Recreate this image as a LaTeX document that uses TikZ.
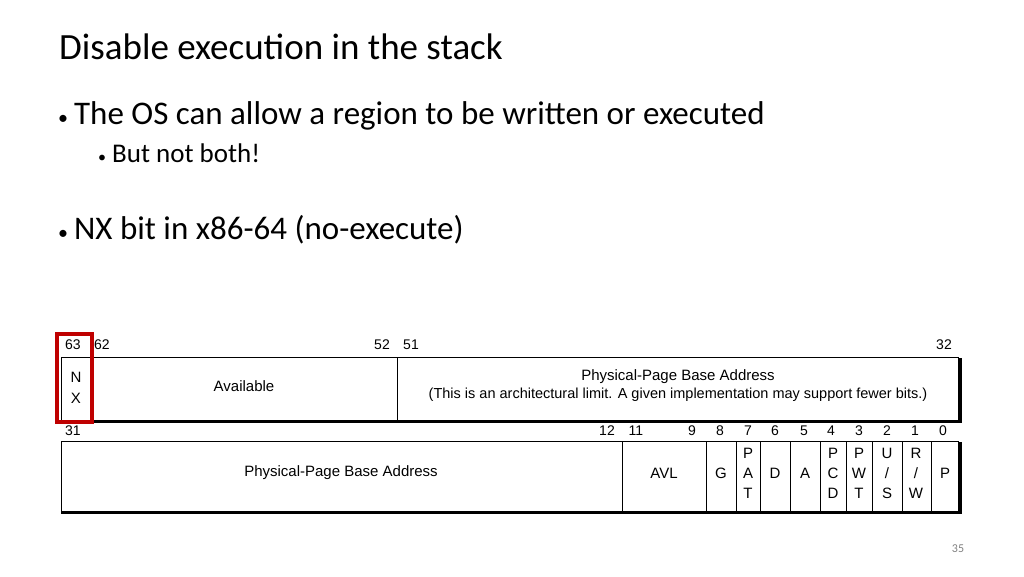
\documentclass[tikz,border=0pt]{standalone}
\usepackage{fontspec}
\setmainfont{Carlito}
\newfontfamily\figfont{Liberation Sans}
\begin{document}
\begin{tikzpicture}[x=1pt,y=-1pt,
    cell/.style={draw,line width=0.8pt},
    num/.style={font=\figfont\fontsize{14}{14}\selectfont,inner sep=0pt},
    lbl/.style={font=\figfont\fontsize{15}{17}\selectfont,inner sep=0pt,align=center},
    shade/.style={line width=3pt}]
  \useasboundingbox (0,0) rectangle (1024,576);
  % slide text
  \node[anchor=west,inner sep=0pt] (title) at (59,47) {\fontsize{37}{37}\selectfont Disable execution in the stack};
  \node[anchor=west,inner sep=0pt] (b1) at (58,116) {\fontsize{33}{33}\selectfont{\fontsize{20}{20}\selectfont\textbullet}\hspace{6pt}The OS can allow a region to be written or executed};
  \node[anchor=west,inner sep=0pt] (b2) at (98,153) {\fontsize{27}{27}\selectfont{\fontsize{16}{16}\selectfont\textbullet}\hspace{6pt}But not both!};
  \node[anchor=west,inner sep=0pt] (b3) at (58,230) {\fontsize{33}{33}\selectfont{\fontsize{20}{20}\selectfont\textbullet}\hspace{6pt}NX bit in x86-64 (no-execute)};
  \node[inner sep=0pt] (pg) at (958,549) {\fontsize{12}{12}\selectfont\color{gray}35};
  % upper row
  \draw[cell] (61,357) rectangle (958,420);
  \draw[cell] (92,357) -- (92,420);
  \draw[cell] (397,357) -- (397,420);
  \draw[shade] (61,421) -- (960,421) -- (960,358);
  \node[lbl] (nx) at (76,388) {N\\[4pt]X};
  \node[lbl] (avl1) at (244,386) {Available};
  \node[lbl] (ppba1) at (678,386) {Physical-Page Base Address\\[1pt]{\fontsize{14.5}{16}\selectfont (This is an architectural limit. A given implementation may support fewer bits.)}};
  \foreach \x/\t in {73/63,102/62,382/52,411/51,944/32}
    \node[num] (t\t) at (\x,345) {\t};
  % lower row
  \draw[cell] (61,441) rectangle (958,511);
  \foreach \x in {622,706,736,760,790,820,846,872,902,931}
    \draw[cell] (\x,441) -- (\x,511);
  \draw[shade] (61,512) -- (960,512) -- (960,442);
  \foreach \x/\t in {73/31,607/12,636/11,692/9,720/8,748/7,775/6,804/5,831/4,859/3,887/2,915/1,943/0}
    \node[num] (b\t) at (\x,431) {\t};
  \node[lbl] (ppba2) at (341,473) {Physical-Page Base Address};
  \node[lbl] (avl2) at (664,473) {AVL};
  \foreach \x/\t/\n in {721/G/g,775/D/d,805/A/a,945/P/p}
    \node[lbl] (f\n) at (\x,473) {\t};
  \foreach \x/\t/\n in {748/{P\\A\\T}/pat,833/{P\\C\\D}/pcd,859/{P\\W\\T}/pwt,887/{U\\/\\S}/us,916/{R\\/\\W}/rw}
    \node[lbl,font=\figfont\fontsize{15}{20}\selectfont] (f\n) at (\x,473) {\t};
  % highlight
  \draw[red!75!black,line width=3.5pt] (57,334) rectangle (92,422);
\end{tikzpicture}
\end{document}
